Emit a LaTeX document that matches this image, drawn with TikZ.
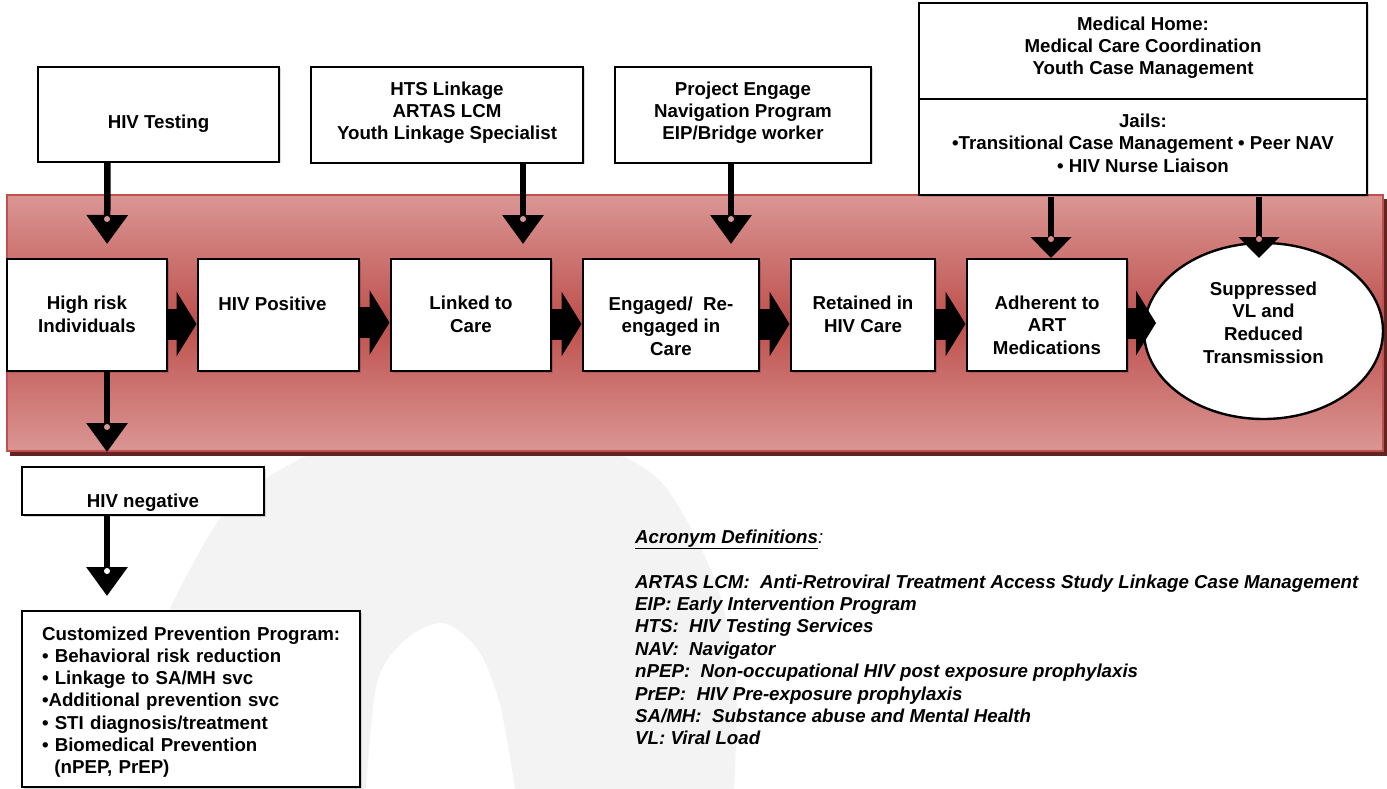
\documentclass[tikz,border=0pt]{standalone}
\usepackage{fontspec}
\setmainfont{Liberation Sans}
\usetikzlibrary{arrows.meta,shapes.geometric,shadows}
\definecolor{bandlight}{HTML}{DA9694}
\definecolor{bandmid}{HTML}{BE504D}
\definecolor{bandedge}{HTML}{C0504D}
\definecolor{bandshadow}{HTML}{622423}
\definecolor{wmark}{HTML}{F3F3F3}
\tikzset{
  boxst/.style={draw=black,line width=2.4pt,fill=white,inner ysep=0pt,inner xsep=0pt,outer sep=0pt,
    align=center,font=\fontsize{18.7}{22.3}\selectfont\bfseries,
    drop shadow={shadow xshift=1.5pt,shadow yshift=-1.5pt,fill=black,opacity=.15}},
  vflow/.style={line width=6.5pt,draw=black,-{Triangle[length=29pt,width=40pt]}},
  vshort/.style={line width=6.5pt,draw=black,-{Triangle[length=21pt,width=40pt]}},
  hflow/.style={line width=31pt,draw=black,-{Triangle[length=20pt,width=64pt]},shorten >=1.5pt},
  hole/.style={fill=bandlight}
}
\newcommand{\bxnode}[8][]{%
  \pgfmathsetmacro\bxw{#5-#3}\pgfmathsetmacro\bxh{#7-#4}\pgfmathsetmacro\bxd{#6-#7}%
  \node[boxst,minimum width=\bxw pt,text height=\bxh pt,text depth=\bxd pt,#1] (#2) at ({(#3+#5)/2},{(#4+#6)/2}) {#8};%
}
\begin{document}
\begin{tikzpicture}[x=1pt,y=-1pt]
\useasboundingbox (0,0) rectangle (1387,789);
\fill[white] (0,0) rectangle (1387,789);
% watermark
\fill[wmark] plot[smooth] coordinates {(140,789) (145,690) (168,613) (224,513) (280,470) (340,445) (470,430) (590,445) (662,483) (716,583) (736,683) (734,789)} -- cycle;
\fill[white] plot[smooth] coordinates {(366,789) (377,683) (405,640) (443,623) (478,650) (500,705) (515,789)} -- cycle;
% band
\fill[bandshadow] (10,199) rectangle (1387,456);
\draw[line width=2.4pt,draw=bandedge,top color=bandlight,bottom color=bandlight,middle color=bandmid] (7,195) rectangle (1383,451);
% top boxes
\bxnode{test}{38}{67}{279}{162}{129}{HIV Testing}
\bxnode{hts}{311}{67}{583}{163}{140}{HTS Linkage\\ARTAS LCM\\Youth Linkage Specialist}
\bxnode{proj}{615}{67}{871}{163}{140}{Project Engage\\Navigation Program\\EIP/Bridge worker}
\bxnode{med}{919}{3}{1367}{99}{75}{Medical Home:\\Medical Care Coordination\\Youth Case Management}
\bxnode{jail}{919}{99}{1367}{195}{172}{Jails:\\•Transitional Case Management • Peer NAV\\• HIV Nurse Liaison}
% row
\bxnode{hr}{7}{259}{167}{371}{332}{High risk\\Individuals}
\bxnode{pos}{198}{259}{359}{371}{310}{HIV Positive\hspace*{12pt}}
\bxnode{link}{391}{259}{551}{371}{332}{Linked to\\Care}
\bxnode{eng}{583}{259}{759}{371}{355}{Engaged/\ \ Re-\\engaged in\\Care}
\bxnode{ret}{791}{259}{935}{371}{332}{Retained in\\HIV Care}
\bxnode{adh}{967}{259}{1127}{371}{354}{Adherent to\\ART\\Medications}
\node[ellipse,draw=black,line width=2.4pt,fill=white,inner sep=0pt,outer sep=0pt,minimum width=239pt,minimum height=176pt,
  align=center,font=\fontsize{18.7}{22.6}\selectfont\bfseries,text height=80pt,text depth=16pt] (supp) at (1263.5,331) {Suppressed\\VL and\\Reduced\\Transmission};
% lower boxes
\bxnode{neg}{22}{467}{264}{515}{507}{HIV negative}
\bxnode[align=left,text width=298pt,inner xsep=20pt,minimum width=338pt]{prev}{22}{611}{360}{787}{640}{\mbox{Customized Prevention Program:}\\• Behavioral risk reduction\\• Linkage to SA/MH svc\\•Additional prevention svc\\• STI diagnosis/treatment\\• Biomedical Prevention\\\ \ (nPEP, PrEP)}
% acronyms
\node[anchor=south west,inner sep=0pt,text depth=0pt,align=left,font=\fontsize{18.7}{22.4}\selectfont\bfseries\itshape] (acr) at (635,745) {\underline{Acronym Definitions}\textmd{:}\\[22.4pt]ARTAS LCM:\ \ Anti-Retroviral Treatment Access Study Linkage Case Management\\EIP: Early Intervention Program\\HTS:\ \ HIV Testing Services\\NAV:\ \ Navigator\\nPEP:\ \ Non-occupational HIV post exposure prophylaxis\\PrEP:\ \ HIV Pre-exposure prophylaxis\\SA/MH:\ \ Substance abuse and Mental Health\\VL: Viral Load};
% horizontal arrows
\foreach \a/\b/\s in {hr/pos/9,pos/link/7.5,link/eng/9,eng/ret/9,ret/adh/9}
  \draw[hflow] ([yshift=-\s pt]\a.east) -- ([yshift=-\s pt]\a.east -| \b.west);
\draw[hflow,shorten >=0pt] ([yshift=-8pt]adh.east) -- ++(29,0);
% vertical arrows
\draw[vflow,shorten >=15pt] ([xshift=-51pt]test.south) -- ([xshift=20pt]hr.north);
\draw[vflow,shorten >=15pt] ([xshift=76pt]hts.south) -- ([xshift=52pt]link.north);
\draw[vflow,shorten >=15pt] ([xshift=-12pt]proj.south) -- ([xshift=60pt]eng.north);
\draw[vshort,shorten >=1pt,shorten <=2pt] ([xshift=-92pt]jail.south) -- ([xshift=4pt]adh.north);
\draw[vshort,shorten >=0pt,shorten <=2pt] ([xshift=116pt]jail.south) -- ++(0,63);
\draw[vflow,shorten <=0pt] ([xshift=20pt]hr.south) -- ++(0,81);
\draw[vflow,shorten >=15pt] ([xshift=-36pt]neg.south) -- ([xshift=-84pt]prev.north);
% small round holes at the arrowheads' bases
\fill[hole] (107,219) circle (3);
\fill[hole] (523,219) circle (3);
\fill[hole] (731,219) circle (3);
\fill[hole] (107,427) circle (3);
\fill[fill=white] (107,571) circle (3);
\fill[fill=bandlight!85!bandmid] (1051,239) circle (3);
\fill[fill=bandlight!85!bandmid] (1259,239) circle (3);
\end{tikzpicture}
\end{document}
